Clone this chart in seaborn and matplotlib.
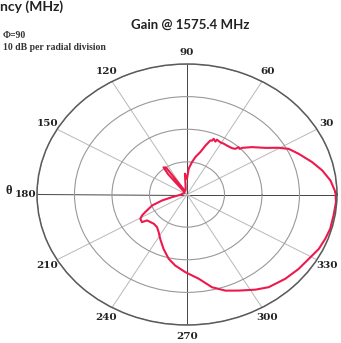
import numpy as np
import pandas as pd
import matplotlib
matplotlib.use("Agg")
import matplotlib.pyplot as plt
import seaborn as sns

# gain pattern (angle in degrees, gain in dB, 10 dB / ring)
angle_deg = [1.0, 6.4, 11.6, 16.6, 22.7, 27.3, 30.4, 34.4, 40.0, 44.0, 45.0, 46.5,
             47.4, 49.8, 54.6, 57.8, 61.0, 64.6, 65.0, 67.4, 68.0, 69.4, 71.8,
             74.7, 79.0, 82.4, 86.8, 90.0, 95.0, 100.0, 110.0, 120.0, 124.0,
             127.0, 129.0, 132.0, 150.0, 170.0, 185.0, 191.5, 195.4, 199.9,
             205.9, 208.2, 210.9, 215.2, 216.7, 221.0, 225.4, 231.3, 236.8,
             242.4, 249.4, 256.1, 261.8, 268.9, 276.9, 283.2, 289.2, 295.0,
             302.0, 307.5, 315.4, 322.5, 328.7, 334.6, 339.8, 344.6, 350.7,
             356.6, 361.0]
gain_db = [-0.4, -1.5, -3.2, -5.2, -7.7, -9.5, -11.7, -14.7, -17.4, -19.4, -20.2, -20.0,
           -21.0, -21.4, -21.6, -21.6, -21.7, -21.4, -22.1, -21.5, -22.2, -22.3, -24.2,
           -26.5, -28.3, -30.0, -32.1, -35.2, -33.6, -38.0, -38.8, -38.0, -30.0,
           -29.6, -32.0, -38.8, -39.2, -38.8, -38.0, -35.9, -33.1, -30.1,
           -27.6, -26.4, -25.5, -25.3, -26.7, -27.1, -27.4, -27.2, -26.2,
           -24.6, -22.2, -19.7, -18.0, -16.2, -14.0, -10.8, -8.8, -7.5,
           -5.6, -4.2, -3.2, -2.5, -2.0, -1.1, -0.7, -0.4, -0.4,
           -0.2, -0.4]

ring_db = [-30, -20, -10, 0]
theta_ticks = list(range(0, 360, 30))
# the 0 label falls outside the cropped picture
theta_labels = ["" if t == 0 else str(t) for t in theta_ticks]

df = pd.DataFrame({"theta": np.deg2rad(angle_deg), "gain": gain_db})

sns.set_theme(style="white")
plt.rcParams["font.family"] = ["DejaVu Sans"]

fig = plt.figure(figsize=(3.41, 3.43), dpi=100)
ax = fig.add_axes([37 / 341, 18 / 343, 300 / 341, 261 / 343], projection="polar")
ax.set_aspect("auto")

sns.lineplot(data=df, x="theta", y="gain", sort=False, ax=ax,
             color="#ec1a4c", linewidth=1.5, estimator=None)

ax.set_ylim(-40, 0)
ax.set_yticks(ring_db)
ax.set_yticklabels([])
ax.set_xlabel("")
ax.set_ylabel("")
ax.set_thetagrids(theta_ticks, theta_labels,
                  fontsize=7.5, fontweight="bold", family="DejaVu Serif", color="#222222")
ax.tick_params(axis="x", pad=-5)

ax.yaxis.grid(True, color="#999999", linewidth=0.8)
ax.xaxis.grid(True, color="#b8b8b8", linewidth=0.7)
for t, gl in zip(theta_ticks, ax.xaxis.get_gridlines()):
    if t % 90 == 0:
        gl.set_color("#444444")
        gl.set_linewidth(0.7)
ax.spines["polar"].set_color("#5a5a5a")
ax.spines["polar"].set_linewidth(1.1)

fig.text(190 / 341, 1 - 25 / 343, "Gain @ 1575.4 MHz", ha="center", va="center",
         fontsize=9.5, fontweight="bold", family="Lato", color="#222222")
fig.text(0, 1 - 7 / 343, "ncy (MHz)", ha="left", va="center",
         fontsize=10, fontweight="bold", family="Lato", color="#222222")
fig.text(3 / 341, 1 - 36 / 343, "\u03a6=90", ha="left", va="center",
         fontsize=7, fontweight="bold", family="Liberation Serif", color="#333333")
fig.text(3 / 341, 1 - 47 / 343, "10 dB per radial division", ha="left", va="center",
         fontsize=7, fontweight="bold", family="Liberation Serif", color="#333333")
fig.text(9 / 341, 1 - 191 / 343, "\u03b8", ha="center", va="center",
         fontsize=9, fontweight="bold", family="Liberation Serif", color="#222222")

fig.savefig("out.png", dpi=100, facecolor="white")
